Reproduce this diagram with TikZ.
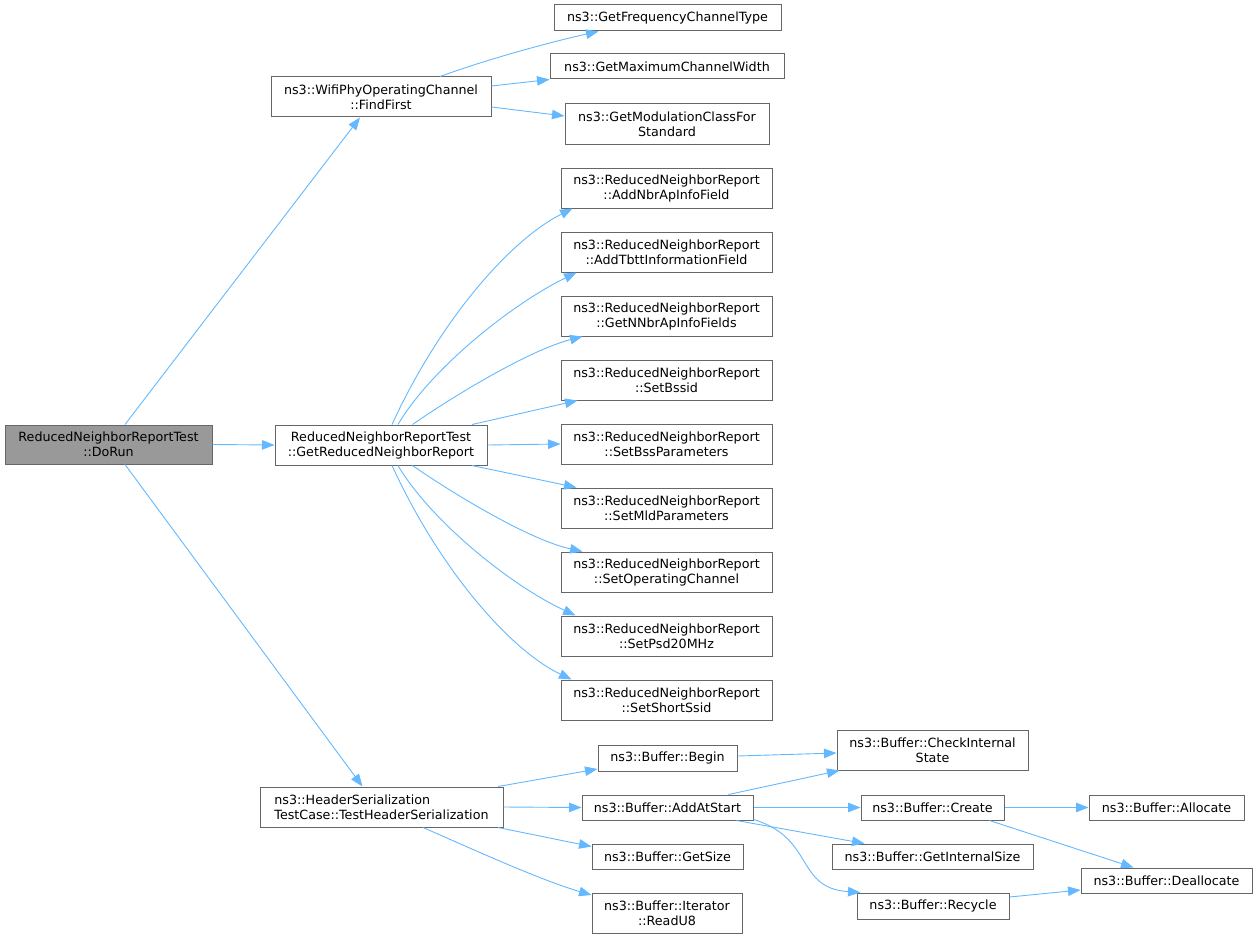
\documentclass[tikz,border=0pt]{standalone}
\usepackage{fontspec}
\setmainfont{DejaVu Sans}
\usetikzlibrary{arrows.meta,calc}
\definecolor{edgeblue}{HTML}{63B8FF}
\definecolor{boxgray}{HTML}{666666}
\definecolor{rootfill}{HTML}{999999}
\tikzset{
  fn/.style={draw=boxgray, line width=1pt, fill=white, rectangle, inner sep=0pt,
             align=center, font=\fontsize{12.7}{15}\selectfont},
  rootfn/.style={fn, fill=rootfill},
  call/.style={draw=edgeblue, line width=0.9pt, -{Triangle[length=12.5pt,width=9.5pt]}},
}
\begin{document}
\begin{tikzpicture}[x=1pt,y=-1pt]
\useasboundingbox (0,0) rectangle (1257,939);
% rank 0
\node[rootfn, minimum width=207pt, minimum height=39pt] (root) at (108.5,444.5) {ReducedNeighborReportTest\\::DoRun};
% rank 1
\node[fn, minimum width=220pt, minimum height=40pt] (ff) at (381,97) {ns3::WifiPhyOperatingChannel\\::FindFirst};
\node[fn, minimum width=212pt, minimum height=40pt] (grnr) at (381,445) {ReducedNeighborReportTest\\::GetReducedNeighborReport};
\node[fn, minimum width=243pt, minimum height=40pt, align=left] (hs) at (381.5,807) {ns3::HeaderSerialization\\TestCase::TestHeaderSerialization};
% rank 2
\node[fn, minimum width=227pt, minimum height=26pt] (gfct) at (667.5,18) {ns3::GetFrequencyChannelType};
\node[fn, minimum width=234pt, minimum height=25pt] (gmcw) at (667,66.5) {ns3::GetMaximumChannelWidth};
\node[fn, minimum width=204pt, minimum height=40pt] (gmcs) at (667,124) {ns3::GetModulationClassFor\\Standard};
\node[fn, minimum width=211pt, minimum height=40pt] (rnr1) at (666.5,188) {ns3::ReducedNeighborReport\\::AddNbrApInfoField};
\node[fn, minimum width=211pt, minimum height=40pt] (rnr2) at (666.5,252) {ns3::ReducedNeighborReport\\::AddTbttInformationField};
\node[fn, minimum width=211pt, minimum height=40pt] (rnr3) at (666.5,316) {ns3::ReducedNeighborReport\\::GetNNbrApInfoFields};
\node[fn, minimum width=211pt, minimum height=40pt] (rnr4) at (666.5,380) {ns3::ReducedNeighborReport\\::SetBssid};
\node[fn, minimum width=211pt, minimum height=40pt] (rnr5) at (666.5,444) {ns3::ReducedNeighborReport\\::SetBssParameters};
\node[fn, minimum width=211pt, minimum height=40pt] (rnr6) at (666.5,508) {ns3::ReducedNeighborReport\\::SetMldParameters};
\node[fn, minimum width=211pt, minimum height=40pt] (rnr7) at (666.5,572) {ns3::ReducedNeighborReport\\::SetOperatingChannel};
\node[fn, minimum width=211pt, minimum height=40pt] (rnr8) at (666.5,636) {ns3::ReducedNeighborReport\\::SetPsd20MHz};
\node[fn, minimum width=211pt, minimum height=40pt] (rnr9) at (666.5,700) {ns3::ReducedNeighborReport\\::SetShortSsid};
\node[fn, minimum width=139pt, minimum height=26pt] (begin) at (667.5,758) {ns3::Buffer::Begin};
\node[fn, minimum width=171pt, minimum height=25pt] (add) at (667.5,807.5) {ns3::Buffer::AddAtStart};
\node[fn, minimum width=151pt, minimum height=25pt] (gsize) at (667.5,856.5) {ns3::Buffer::GetSize};
\node[fn, minimum width=150pt, minimum height=40pt] (read) at (667,913) {ns3::Buffer::Iterator\\::ReadU8};
% rank 3
\node[fn, minimum width=191pt, minimum height=40pt] (chk) at (932.5,750) {ns3::Buffer::CheckInternal\\State};
\node[fn, minimum width=143pt, minimum height=25pt] (create) at (932.5,807.5) {ns3::Buffer::Create};
\node[fn, minimum width=201pt, minimum height=25pt] (gis) at (932.5,856.5) {ns3::Buffer::GetInternalSize};
\node[fn, minimum width=152pt, minimum height=26pt] (rec) at (933,906) {ns3::Buffer::Recycle};
% rank 4
\node[fn, minimum width=155pt, minimum height=25pt] (alloc) at (1166.5,807.5) {ns3::Buffer::Allocate};
\node[fn, minimum width=171pt, minimum height=25pt] (dealloc) at (1166.5,880.5) {ns3::Buffer::Deallocate};

% edges from root
\draw[call] ($(root.north)+(16.5,0)$) -- ($(ff.south)+(-21,0)$);
\draw[call] (root.east) -- (grnr.west);
\draw[call] ($(root.south)+(16.5,0)$) -- ($(hs.north)+(-19,0)$);
% FindFirst
\draw[call] ($(ff.north)+(59,0)$) .. controls (485,60) and (550,42) .. ($(gfct.south)+(-69,0)$);
\draw[call] ($(ff.east)+(0,-11)$) -- (gmcw.south west);
\draw[call] ($(ff.east)+(0,10)$) -- ($(gmcs.west)+(0,-8)$);
% GetReducedNeighborReport
\draw[call] ($(grnr.north)+(11,0)$) .. controls (440,320) and (510,240) .. ($(rnr1.south west)+(12,0)$);
\draw[call] ($(grnr.north)+(17,0)$) .. controls (430,370) and (510,305) .. ($(rnr2.south west)+(16,0)$);
\draw[call] ($(grnr.north)+(31.5,0)$) .. controls (455,395) and (530,350) .. ($(rnr3.south west)+(22,0)$);
\draw[call] ($(grnr.north)+(91,0)$) -- ($(rnr4.south west)+(17,0)$);
\draw[call] (grnr.east) -- (rnr5.west);
\draw[call] ($(grnr.south)+(91,0)$) -- ($(rnr6.north west)+(16,0)$);
\draw[call] ($(grnr.south)+(31.5,0)$) .. controls (455,495) and (530,540) .. ($(rnr7.north west)+(22,0)$);
\draw[call] ($(grnr.south)+(17,0)$) .. controls (430,520) and (510,585) .. ($(rnr8.north west)+(15,0)$);
\draw[call] ($(grnr.south)+(11,0)$) .. controls (440,570) and (510,650) .. ($(rnr9.north west)+(11,0)$);
% HeaderSerialization
\draw[call] ($(hs.north)+(116.5,0)$) -- ($(begin.west)+(0,11)$);
\draw[call] (hs.east) -- (add.west);
\draw[call] ($(hs.south)+(116.5,0)$) -- ($(gsize.west)+(0,-10)$);
\draw[call] ($(hs.south)+(41.5,0)$) .. controls (470,848) and (540,880) .. ($(read.west)+(0,-18)$);
% Buffer
\draw[call] ($(begin.east)+(0,-2)$) -- ($(chk.west)+(0,3)$);
\draw[call] ($(add.north)+(61,0)$) -- ($(chk.south west)+(3,0)$);
\draw[call] (add.east) -- (create.west);
\draw[call] ($(add.south)+(69,0)$) -- ($(gis.north west)+(33,0)$);
\draw[call] ($(add.south east)+(0,-1)$) .. controls (815,838) and (795,888) .. ($(rec.north west)+(4,0)$);
\draw[call] (create.east) -- (alloc.west);
\draw[call] ($(create.south)+(57,0)$) -- ($(dealloc.north west)+(53,0)$);
\draw[call] ($(rec.east)+(0,-9)$) -- ($(dealloc.west)+(0,9.5)$);
\end{tikzpicture}
\end{document}
